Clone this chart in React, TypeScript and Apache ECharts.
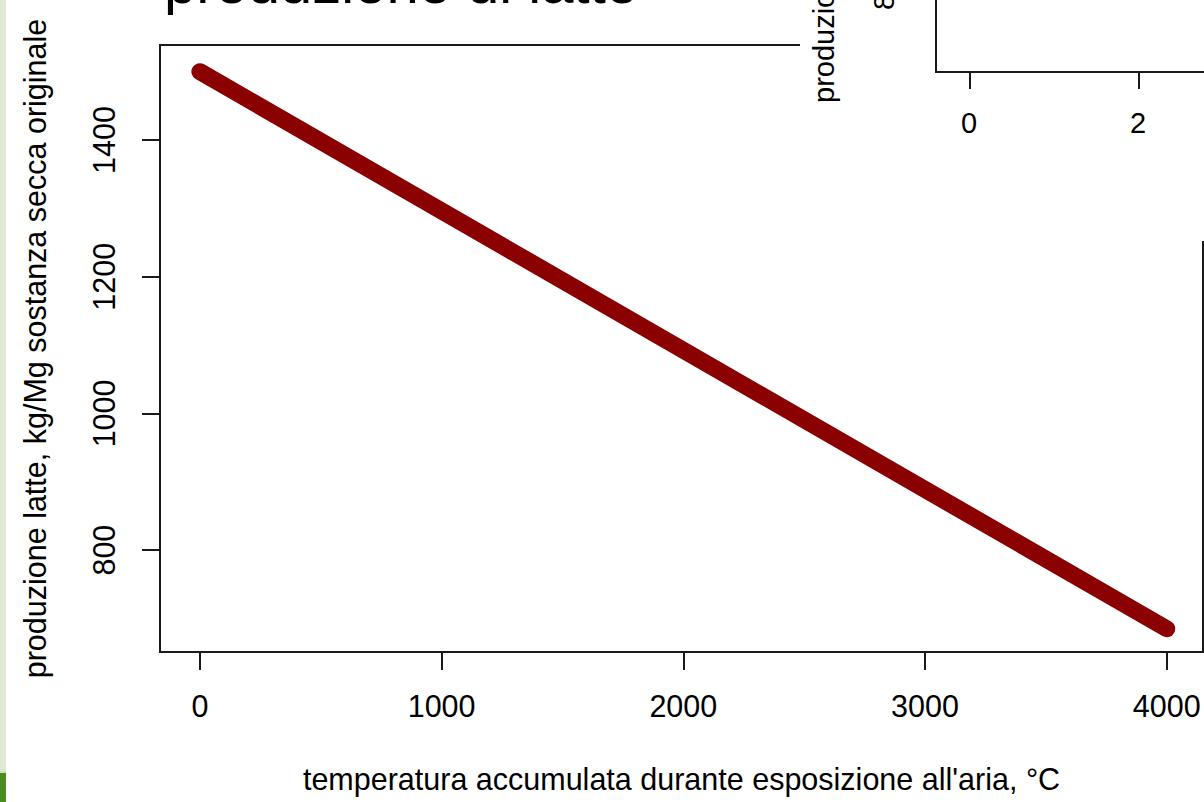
import React, { useEffect, useRef } from "react";
import * as echarts from "echarts";

const xTicks = [0, 1000, 2000, 3000, 4000];
const yTicks = [800, 1000, 1200, 1400];
const lineX = [0, 4000];
const lineY = [1500, 685];
const insetTickLabels = ["0", "2"];
const titleText = "produzione di latte";
const xName = "temperatura accumulata durante esposizione all'aria, °C";
const yName = "produzione latte, kg/Mg sostanza secca originale";

const FONT = "'Liberation Sans', Arial, sans-serif";

export default function App() {
  const ref = useRef<HTMLDivElement>(null);
  useEffect(() => {
    if (!ref.current) return;
    const chart = echarts.init(ref.current, undefined, { renderer: "svg" });
    const data = lineX.map((x, i) => [x, lineY[i]]);
    const insetTickX = [970, 1139];
    chart.setOption({
      animation: false,
      backgroundColor: "#ffffff",
      textStyle: { fontFamily: FONT },
      grid: {
        left: 160,
        top: 45,
        width: 1043,
        height: 607,
        show: true,
        borderColor: "#1a1a1a",
        borderWidth: 2,
        backgroundColor: "transparent",
      },
      xAxis: {
        type: "value",
        min: -165,
        max: 4150,
        axisLine: { show: false, onZero: false },
        splitLine: { show: false },
        axisTick: {
          show: true,
          length: 18,
          customValues: xTicks,
          lineStyle: { color: "#1a1a1a", width: 2 },
        },
        axisLabel: {
          customValues: xTicks,
          formatter: (v: number) => String(v),
          fontSize: 30.5,
          color: "#000",
          fontFamily: FONT,
          margin: 38,
        },
        name: xName,
        nameLocation: "middle",
        nameGap: 111,
        nameMoveOverlap: false,
        nameTextStyle: { fontSize: 30.5, color: "#000", fontFamily: FONT },
      },
      yAxis: {
        type: "value",
        min: 651,
        max: 1539,
        axisLine: { show: false, onZero: false },
        splitLine: { show: false },
        axisTick: {
          show: true,
          length: 18,
          customValues: yTicks,
          lineStyle: { color: "#1a1a1a", width: 2 },
        },
        axisLabel: {
          customValues: yTicks,
          formatter: (v: number) => String(v),
          rotate: 90,
          fontSize: 30.5,
          color: "#000",
          fontFamily: FONT,
          margin: 41,
        },
        name: yName,
        nameLocation: "middle",
        nameGap: 110,
        nameMoveOverlap: false,
        nameTextStyle: { fontSize: 30.5, color: "#000", fontFamily: FONT },
      },
      series: [
        {
          type: "line",
          data,
          symbol: "none",
          lineStyle: { color: "#8b0000", width: 17, cap: "round" },
          z: 3,
        },
      ],
      graphic: [
        { type: "rect", shape: { x: 0, y: 0, width: 6, height: 771 }, style: { fill: "#e0e9d6" }, z: 100 },
        { type: "rect", shape: { x: 0, y: 771, width: 6, height: 2 }, style: { fill: "#c9e3a9" }, z: 100 },
        { type: "rect", shape: { x: 0, y: 773, width: 6, height: 29 }, style: { fill: "#4b8b20" }, z: 100 },
        {
          type: "text",
          x: 164,
          y: 11,
          style: { text: titleText, fontSize: 58, fontFamily: FONT, fill: "#000", align: "left", verticalAlign: "bottom" },
          z: 100,
        },
        // inset (overlapping second plot)
        { type: "rect", shape: { x: 800, y: 0, width: 404, height: 241 }, style: { fill: "#ffffff" }, z: 100 },
        {
          type: "text",
          x: 838,
          y: 103,
          rotation: Math.PI / 2,
          style: { text: "produzione latte", fontSize: 29, fontFamily: FONT, fill: "#000", align: "left", verticalAlign: "bottom" },
          z: 101,
        },
        {
          type: "text",
          x: 898,
          y: 10,
          rotation: Math.PI / 2,
          style: { text: "800", fontSize: 29, fontFamily: FONT, fill: "#000", align: "left", verticalAlign: "bottom" },
          z: 101,
        },
        {
          type: "polyline",
          shape: { points: [[936, 0], [936, 72], [1204, 72]] },
          style: { stroke: "#1a1a1a", lineWidth: 2, fill: "none" },
          z: 101,
        },
        ...insetTickX.map((x) => ({
          type: "line",
          shape: { x1: x, y1: 72, x2: x, y2: 89 },
          style: { stroke: "#1a1a1a", lineWidth: 2 },
          z: 101,
        })),
        ...insetTickLabels.map((t, i) => ({
          type: "text",
          x: insetTickX[i] - 1,
          y: 123,
          style: { text: t, fontSize: 29, fontFamily: FONT, fill: "#000", align: "center", verticalAlign: "middle" },
          z: 101,
        })),
      ],
    });
    return () => chart.dispose();
  }, []);
  return (
    <div
      ref={ref}
      style={{ position: "absolute", left: 0, top: 0, width: 1204, height: 802 }}
    />
  );
}
